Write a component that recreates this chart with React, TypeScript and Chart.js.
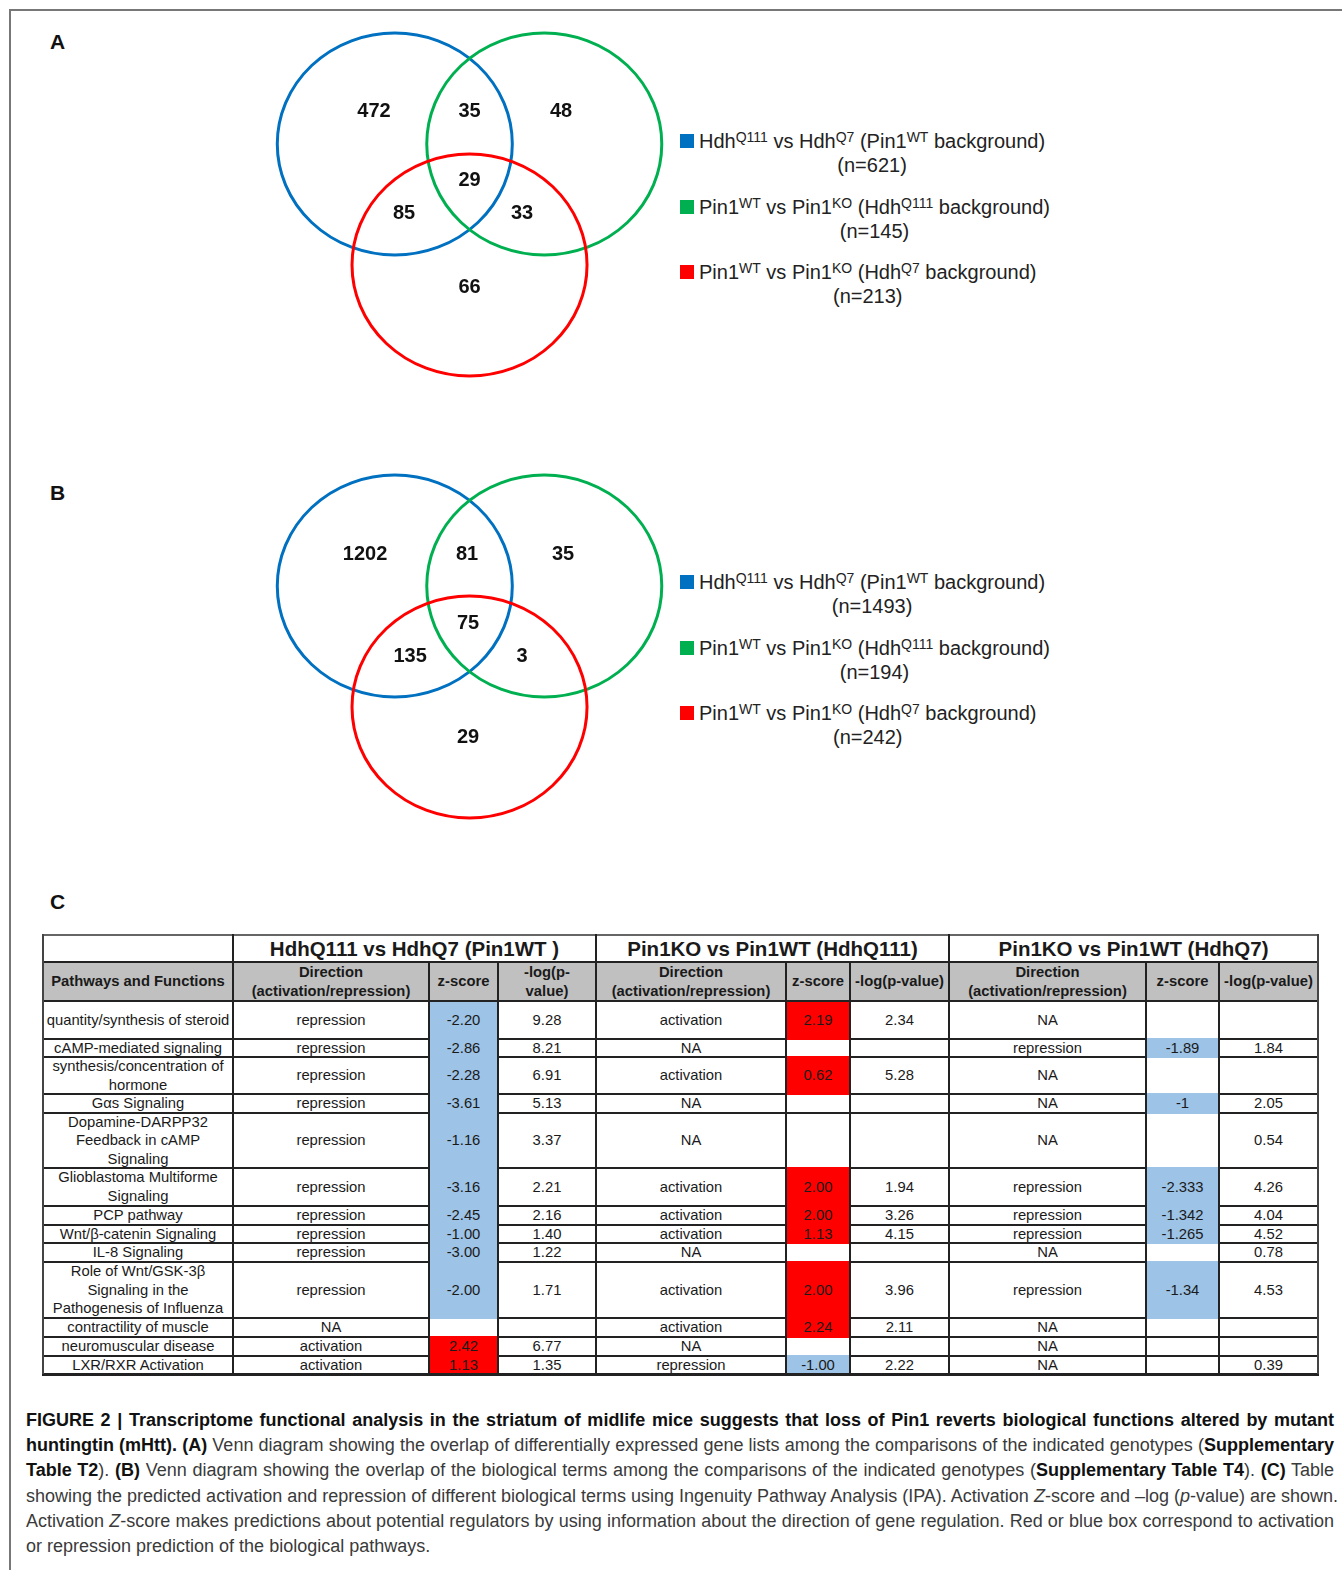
import React, { useEffect, useRef } from "react";
import { Chart, registerables } from "chart.js";
Chart.register(...registerables);

const FONT = "'Liberation Sans', Arial, Helvetica, sans-serif";

// ---------- Venn data ----------
const SET_COLORS = ["#0070c0", "#00b050", "#ff0000"];
const REGIONS = ["Q111 only", "Q111∩Q111bg", "Q111bg only", "all", "Q111∩Q7bg", "Q111bg∩Q7bg", "Q7bg only"];
const VENN_A_COUNTS = [472, 35, 48, 29, 85, 33, 66];
const VENN_B_COUNTS = [1202, 81, 35, 75, 135, 3, 29];
const VENN_A_TOTALS = [621, 145, 213];
const VENN_B_TOTALS = [1493, 194, 242];

// ---------- Table data ----------
const PATHWAYS = [
  "quantity/synthesis of steroid",
  "cAMP-mediated signaling",
  "synthesis/concentration of\nhormone",
  "Gαs Signaling",
  "Dopamine-DARPP32\nFeedback in cAMP\nSignaling",
  "Glioblastoma Multiforme\nSignaling",
  "PCP pathway",
  "Wnt/β-catenin Signaling",
  "IL-8 Signaling",
  "Role of Wnt/GSK-3β\nSignaling in the\nPathogenesis of Influenza",
  "contractility of muscle",
  "neuromuscular disease",
  "LXR/RXR Activation",
];
const GROUPS = ["HdhQ111 vs HdhQ7 (Pin1WT )", "Pin1KO vs Pin1WT (HdhQ111)", "Pin1KO vs Pin1WT (HdhQ7)"];
const DIR_1 = ["repression", "repression", "repression", "repression", "repression", "repression", "repression", "repression", "repression", "repression", "NA", "activation", "activation"];
const Z_1 = ["-2.20", "-2.86", "-2.28", "-3.61", "-1.16", "-3.16", "-2.45", "-1.00", "-3.00", "-2.00", "", "2.42", "1.13"];
const P_1 = ["9.28", "8.21", "6.91", "5.13", "3.37", "2.21", "2.16", "1.40", "1.22", "1.71", "", "6.77", "1.35"];
const DIR_2 = ["activation", "NA", "activation", "NA", "NA", "activation", "activation", "activation", "NA", "activation", "activation", "NA", "repression"];
const Z_2 = ["2.19", "", "0.62", "", "", "2.00", "2.00", "1.13", "", "2.00", "2.24", "", "-1.00"];
const P_2 = ["2.34", "", "5.28", "", "", "1.94", "3.26", "4.15", "", "3.96", "2.11", "", "2.22"];
const DIR_3 = ["NA", "repression", "NA", "NA", "NA", "repression", "repression", "repression", "NA", "repression", "NA", "NA", "NA"];
const Z_3 = ["", "-1.89", "", "-1", "", "-2.333", "-1.342", "-1.265", "", "-1.34", "", "", ""];
const P_3 = ["", "1.84", "", "2.05", "0.54", "4.26", "4.04", "4.52", "0.78", "4.53", "", "", "0.39"];

// ---------- layout ----------
const CIRCLE_CENTERS = [
  { x: -0.636, y: 0.545 },
  { x: 0.636, y: 0.545 },
  { x: 0, y: -0.545 },
];
const LABEL_POS_A = [
  { x: -0.813, y: 0.84 }, { x: 0, y: 0.84 }, { x: 0.779, y: 0.84 },
  { x: 0, y: 0.217 }, { x: -0.557, y: -0.079 }, { x: 0.447, y: -0.079 }, { x: 0, y: -0.747 },
];
const LABEL_POS_B = [
  { x: -0.889, y: 0.831 }, { x: -0.021, y: 0.831 }, { x: 0.796, y: 0.831 },
  { x: -0.013, y: 0.21 }, { x: -0.506, y: -0.088 }, { x: 0.447, y: -0.088 }, { x: -0.013, y: -0.817 },
];
const X_RANGE = [-1.732, 1.757];
const Y_RANGE = [-1.644, 1.644];

const COLS = [43, 233, 429, 498, 596, 786, 850, 949, 1146, 1219, 1318];
const ROWS = [935, 962, 1001, 1039, 1057, 1094, 1113, 1168, 1206, 1225, 1243, 1262, 1318, 1337, 1356, 1374];

function Venn({ counts, labelPos, top }: { counts: number[]; labelPos: { x: number; y: number }[]; top: number }) {
  const ref = useRef<HTMLCanvasElement>(null);
  useEffect(() => {
    const plugin = {
      id: "vennDraw",
      afterDatasetsDraw(chart: any) {
        const { ctx } = chart;
        const xs = chart.scales.x;
        const ys = chart.scales.y;
        const circles = chart.getDatasetMeta(0);
        ctx.save();
        CIRCLE_CENTERS.forEach((c, i) => {
          const el = circles.data[i];
          const rx = Math.abs(xs.getPixelForValue(c.x + 1) - xs.getPixelForValue(c.x));
          const ry = Math.abs(ys.getPixelForValue(c.y) - ys.getPixelForValue(c.y + 1));
          ctx.beginPath();
          ctx.ellipse(el.x, el.y, rx, ry, 0, 0, Math.PI * 2);
          ctx.strokeStyle = SET_COLORS[i];
          ctx.lineWidth = 3;
          ctx.stroke();
        });
        const labels = chart.getDatasetMeta(1);
        ctx.font = `bold 20px ${FONT}`;
        ctx.fillStyle = "#111";
        ctx.textAlign = "center";
        ctx.textBaseline = "middle";
        labels.data.forEach((el: any, i: number) => ctx.fillText(String(counts[i]), el.x, el.y));
        ctx.restore();
      },
    };
    const chart = new Chart(ref.current as HTMLCanvasElement, {
      type: "scatter",
      data: {
        datasets: [
          { label: "sets", data: CIRCLE_CENTERS.map((c) => ({ x: c.x, y: c.y })), pointRadius: 0 },
          { label: "regions", data: labelPos.map((p) => ({ x: p.x, y: p.y })), pointRadius: 0 },
        ],
      },
      options: {
        animation: false,
        responsive: false,
        maintainAspectRatio: false,
        layout: { padding: 0 },
        events: [],
        scales: {
          x: { type: "linear", min: X_RANGE[0], max: X_RANGE[1], display: false },
          y: { type: "linear", min: Y_RANGE[0], max: Y_RANGE[1], display: false },
        },
        plugins: { legend: { display: false }, tooltip: { enabled: false } },
      },
      plugins: [plugin],
    } as any);
    return () => chart.destroy();
  }, []);
  return (
    <canvas
      ref={ref}
      width={410}
      height={365}
      style={{ position: "absolute", left: 266, top, width: 410, height: 365 }}
    />
  );
}

const sup = (t: string) => (
  <span style={{ fontSize: "0.7em", verticalAlign: "0.4em", lineHeight: 0 }}>{t}</span>
);

const LEGEND_LABELS = [
  <>Hdh{sup("Q111")} vs Hdh{sup("Q7")} (Pin1{sup("WT")} background)</>,
  <>Pin1{sup("WT")} vs Pin1{sup("KO")} (Hdh{sup("Q111")} background)</>,
  <>Pin1{sup("WT")} vs Pin1{sup("KO")} (Hdh{sup("Q7")} background)</>,
];

function Legend({ totals, top }: { totals: number[]; top: number }) {
  const offsets = [0, 66, 131];
  return (
    <>
      {totals.map((n, i) => (
        <React.Fragment key={i}>
          <div
            style={{
              position: "absolute",
              left: 680,
              top: top + offsets[i] - 7,
              width: 14,
              height: 14,
              background: SET_COLORS[i],
            }}
          />
          <div
            style={{
              position: "absolute",
              left: 699,
              top: top + offsets[i] - 12,
              fontSize: 20,
              lineHeight: "24px",
              color: "#222",
              textAlign: "center",
              whiteSpace: "nowrap",
            }}
          >
            {LEGEND_LABELS[i]}
            <br />
            (n={n})
          </div>
        </React.Fragment>
      ))}
    </>
  );
}

function Table() {
  const LINE = "#222";
  const nodes: React.ReactNode[] = [];
  const cellText = (key: string, l: number, r: number, t: number, b: number, text: string, style: any = {}) =>
    nodes.push(
      <div
        key={key}
        style={{
          position: "absolute",
          left: l,
          top: t,
          width: r - l,
          height: b - t,
          display: "flex",
          alignItems: "center",
          justifyContent: "center",
          textAlign: "center",
          whiteSpace: "pre-line",
          fontSize: 14.8,
          lineHeight: "18.6px",
          color: "#1a1a1a",
          ...style,
        }}
      >
        {text}
      </div>
    );
  nodes.push(
    <div key="hbg" style={{ position: "absolute", left: COLS[0], top: ROWS[1], width: COLS[10] - COLS[0], height: ROWS[2] - ROWS[1], background: "#c0c0c0" }} />
  );
  ROWS.forEach((y, i) =>
    nodes.push(
      <div
        key={"h" + i}
        style={{
          position: "absolute",
          left: COLS[0] - 1,
          top: y - 1,
          width: COLS[10] - COLS[0] + 2,
          height: i === ROWS.length - 1 ? 3 : 2,
          background: i === 0 ? "#666" : LINE,
        }}
      />
    )
  );
  COLS.forEach((x, i) => {
    const full = [0, 1, 4, 7, 10].includes(i);
    nodes.push(
      <div
        key={"v" + i}
        style={{
          position: "absolute",
          left: x - 1,
          top: full ? ROWS[0] - 1 : ROWS[1],
          width: 2,
          height: full ? ROWS[15] - ROWS[0] + 1 : ROWS[15] - ROWS[1],
          background: i === 10 || i === 0 ? "#444" : LINE,
        }}
      />
    );
  });
  const zCols = [
    { c: 2, z: Z_1 },
    { c: 5, z: Z_2 },
    { c: 8, z: Z_3 },
  ];
  zCols.forEach(({ c, z }) =>
    z.forEach((v, r) => {
      if (!v) return;
      const neg = v.startsWith("-");
      const t = ROWS[r + 2] + (r === 0 ? 1 : -1);
      const b = ROWS[r + 3] + (r === z.length - 1 ? -1 : 1);
      nodes.push(
        <div
          key={`zc${c}-${r}`}
          style={{
            position: "absolute",
            left: COLS[c] + 1,
            top: t,
            width: COLS[c + 1] - COLS[c] - 2,
            height: b - t,
            background: neg ? "#9dc3e6" : "#ff0000",
          }}
        />
      );
    })
  );
  cellText("g0", COLS[1], COLS[4], ROWS[0], ROWS[1], GROUPS[0], { fontSize: 20.5, fontWeight: "bold", lineHeight: "24px" });
  cellText("g1", COLS[4], COLS[7], ROWS[0], ROWS[1], GROUPS[1], { fontSize: 20.5, fontWeight: "bold", lineHeight: "24px" });
  cellText("g2", COLS[7], COLS[10], ROWS[0], ROWS[1], GROUPS[2], { fontSize: 20.5, fontWeight: "bold", lineHeight: "24px" });
  const H2 = [
    "Pathways and Functions",
    "Direction\n(activation/repression)",
    "z-score",
    "-log(p-\nvalue)",
    "Direction\n(activation/repression)",
    "z-score",
    "-log(p-value)",
    "Direction\n(activation/repression)",
    "z-score",
    "-log(p-value)",
  ];
  H2.forEach((t, i) => cellText("h2" + i, COLS[i], COLS[i + 1], ROWS[1], ROWS[2], t, { fontWeight: "bold" }));
  const cols = [PATHWAYS, DIR_1, Z_1, P_1, DIR_2, Z_2, P_2, DIR_3, Z_3, P_3];
  PATHWAYS.forEach((_, r) =>
    cols.forEach((col, c) =>
      cellText(`d${r}-${c}`, COLS[c], COLS[c + 1], ROWS[r + 2], ROWS[r + 3], col[r], {})
    )
  );
  return <>{nodes}</>;
}

type Seg = { t: string; b?: boolean; i?: boolean };
const CAPTION: Seg[][] = [
  [{ t: "FIGURE 2 | Transcriptome functional analysis in the striatum of midlife mice suggests that loss of Pin1 reverts biological functions altered by mutant", b: true }],
  [
    { t: "huntingtin (mHtt). (A)", b: true },
    { t: " Venn diagram showing the overlap of differentially expressed gene lists among the comparisons of the indicated genotypes (" },
    { t: "Supplementary", b: true },
  ],
  [
    { t: "Table T2", b: true },
    { t: "). " },
    { t: "(B)", b: true },
    { t: " Venn diagram showing the overlap of the biological terms among the comparisons of the indicated genotypes (" },
    { t: "Supplementary Table T4", b: true },
    { t: "). " },
    { t: "(C)", b: true },
    { t: " Table" },
  ],
  [
    { t: "showing the predicted activation and repression of different biological terms using Ingenuity Pathway Analysis (IPA). Activation " },
    { t: "Z", i: true },
    { t: "-score and –log (" },
    { t: "p", i: true },
    { t: "-value) are shown." },
  ],
  [
    { t: "Activation " },
    { t: "Z", i: true },
    { t: "-score makes predictions about potential regulators by using information about the direction of gene regulation. Red or blue box correspond to activation" },
  ],
  [{ t: "or repression prediction of the biological pathways." }],
];

function Caption() {
  return (
    <div style={{ position: "absolute", left: 26, top: 1408, width: 1308, fontSize: 18, lineHeight: "25.2px", color: "#3a3a3a" }}>
      {CAPTION.map((line, li) => (
        <div
          key={li}
          style={{
            whiteSpace: "nowrap",
            textAlign: li < CAPTION.length - 1 ? "justify" : "left",
            textAlignLast: li < CAPTION.length - 1 ? "justify" : "left",
          } as any}
        >
          {line.map((s, si) => (
            <span key={si} style={{ fontWeight: s.b ? "bold" : "normal", fontStyle: s.i ? "italic" : "normal", color: s.b ? "#111" : undefined }}>
              {s.t}
            </span>
          ))}
        </div>
      ))}
    </div>
  );
}

const PanelLetter = ({ l, y }: { l: string; y: number }) => (
  <div style={{ position: "absolute", left: 50, top: y - 12, fontSize: 21, fontWeight: "bold", lineHeight: "24px", color: "#111" }}>{l}</div>
);

export default function App() {
  return (
    <div
      style={{
        position: "absolute",
        left: 0,
        top: 0,
        width: 1342,
        height: 1570,
        overflow: "hidden",
        background: "#fff",
        fontFamily: FONT,
      }}
    >
      <div style={{ position: "absolute", left: 9, top: 9, width: 1333, height: 2, background: "#777" }} />
      <div style={{ position: "absolute", left: 9, top: 9, width: 2, height: 1561, background: "#777" }} />
      <PanelLetter l="A" y={42} />
      <PanelLetter l="B" y={493} />
      <PanelLetter l="C" y={902} />
      <Venn counts={VENN_A_COUNTS} labelPos={LABEL_POS_A} top={22} />
      <Venn counts={VENN_B_COUNTS} labelPos={LABEL_POS_B} top={464} />
      <Legend totals={VENN_A_TOTALS} top={141} />
      <Legend totals={VENN_B_TOTALS} top={582} />
      <Table />
      <Caption />
    </div>
  );
}
